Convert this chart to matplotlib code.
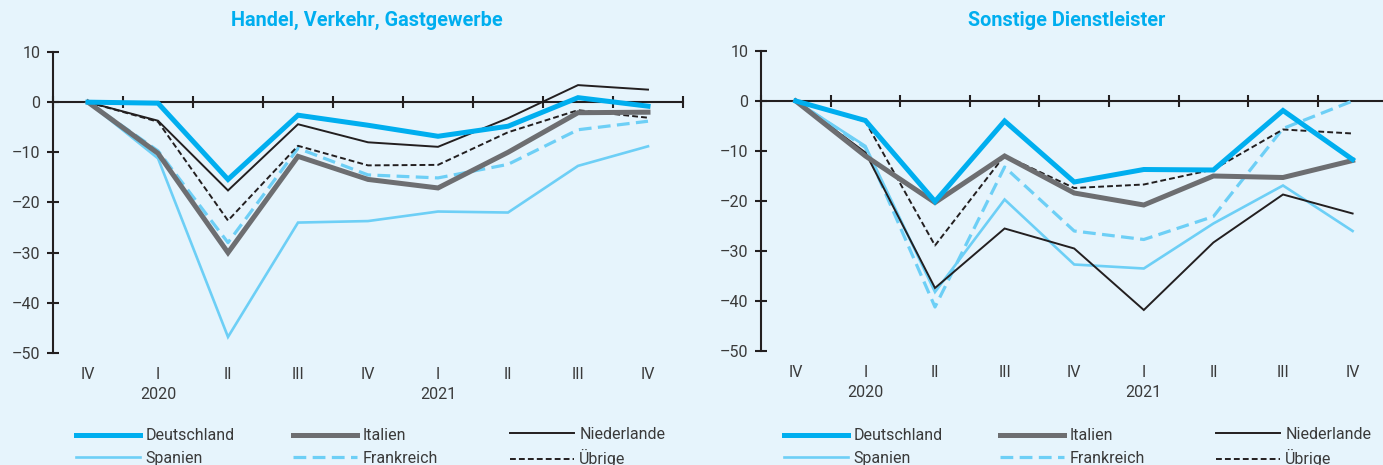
import matplotlib.pyplot as plt
import numpy as np

plt.rcParams['font.family'] = ['Roboto', 'DejaVu Sans']

quarters = ["IV", "I", "II", "III", "IV", "I", "II", "III", "IV"]
years = ["2020", "2021"]
year_pos = [1, 5]
countries = ["Deutschland", "Italien", "Niederlande", "Spanien", "Frankreich", "Übrige"]

# Handel, Verkehr, Gastgewerbe
hvg_de = [0, -0.2, -15.4, -2.6, -4.6, -6.8, -4.8, 0.9, -0.8]
hvg_it = [0, -10.2, -30.0, -10.8, -15.4, -17.1, -10.0, -2.1, -2.0]
hvg_nl = [0, -3.7, -17.6, -4.4, -8.0, -8.9, -3.2, 3.4, 2.5]
hvg_es = [0, -11.2, -46.8, -24.0, -23.7, -21.8, -22.0, -12.7, -8.8]
hvg_fr = [0, -9.7, -28.0, -9.2, -14.5, -15.1, -12.4, -5.5, -3.8]
hvg_ub = [0, -3.9, -23.6, -8.7, -12.6, -12.5, -6.0, -1.6, -3.1]

# Sonstige Dienstleister
sd_de = [0, -3.9, -20.1, -4.0, -16.2, -13.7, -13.8, -1.9, -11.7]
sd_it = [0, -11.0, -20.3, -11.0, -18.4, -20.8, -15.0, -15.3, -11.9]
sd_nl = [0, -10.3, -37.4, -25.5, -29.5, -41.8, -28.3, -18.7, -22.5]
sd_es = [0, -9.0, -38.2, -19.7, -32.7, -33.5, -24.5, -16.9, -26.0]
sd_fr = [0, -9.3, -41.2, -13.2, -26.0, -27.7, -23.1, -5.5, 0.0]
sd_ub = [0, -4.1, -28.9, -10.9, -17.4, -16.7, -13.7, -5.7, -6.5]

bg = '#E6F4FC'
ink = '#231F20'
txt = '#3A3A3A'
cyan = '#00AEEF'
light = '#6DCFF6'

styles = {
    "Deutschland": dict(color=cyan, lw=3.6, ls='-', zorder=7),
    "Italien": dict(color='#6D6E71', lw=3.6, ls='-', zorder=6),
    "Niederlande": dict(color=ink, lw=1.4, ls='-', zorder=5),
    "Spanien": dict(color=light, lw=1.9, ls='-', zorder=3),
    "Frankreich": dict(color=light, lw=2.3, ls=(0, (4, 2)), zorder=4),
    "Übrige": dict(color=ink, lw=1.4, ls=(0, (3, 1.6)), zorder=5),
}

fig = plt.figure(figsize=(13.83, 4.65), dpi=100, facecolor=bg)


def panel(rect, series, title, title_x, legend_x):
    ax = fig.add_axes(rect)
    ax.set_facecolor(bg)
    x = np.arange(len(quarters))
    handles = []
    for name, vals in zip(countries, series):
        st = styles[name]
        h, = ax.plot(x, vals, color=st['color'], lw=st['lw'], ls=st['ls'],
                     zorder=st['zorder'], solid_joinstyle='miter', label=name)
        handles.append(h)
    ax.set_xlim(-0.5, len(quarters) - 0.5)
    ax.set_ylim(-50, 10)
    ax.spines['top'].set_visible(False)
    ax.spines['right'].set_visible(False)
    ax.spines['bottom'].set_position(('data', 0))
    for s in ('left', 'bottom'):
        ax.spines[s].set_linewidth(1.5)
        ax.spines[s].set_color(ink)
        ax.spines[s].set_zorder(2)
    ax.set_yticks(np.arange(-50, 11, 10))
    ax.set_yticklabels([str(v).replace('-', '–') for v in range(-50, 11, 10)])
    ax.tick_params(axis='y', direction='inout', length=8, width=1.5, color=ink,
                   labelsize=11.5, labelcolor=txt, pad=5)
    ax.set_xticks(np.arange(-0.5, len(quarters), 1))
    ax.set_xticklabels([])
    ax.tick_params(axis='x', direction='inout', length=8, width=1.5, color=ink)
    for i, q in enumerate(quarters):
        ax.text(i, -0.07, q, transform=ax.get_xaxis_transform(), ha='center',
                va='center', fontsize=11.5, color=txt)
    for p, yr in zip(year_pos, years):
        ax.text(p, -0.137, yr, transform=ax.get_xaxis_transform(), ha='center',
                va='center', fontsize=11.5, color=txt)
    fig.text(title_x / 1383, 1 - 20 / 465, title, ha='center', va='center',
             fontsize=14.3, fontweight='bold', color=cyan)
    for col in range(3):
        hs = [handles[col], handles[col + 3]]
        leg = fig.legend(hs, [h.get_label() for h in hs], loc='center left',
                         bbox_to_anchor=(legend_x[col] / 1383, 1 - 447 / 465),
                         frameon=False, borderpad=0, borderaxespad=0,
                         handlelength=4.0, handletextpad=0.33, labelspacing=0.45,
                         fontsize=11.5)
        for t in leg.get_texts():
            t.set_color(txt)
    return ax


panel([53 / 1383, 1 - 353 / 465, 630 / 1383, 301 / 465],
      [hvg_de, hvg_it, hvg_nl, hvg_es, hvg_fr, hvg_ub],
      "Handel, Verkehr, Gastgewerbe", 367, [76, 293, 510])
panel([761 / 1383, 1 - 351 / 465, 626.4 / 1383, 300 / 465],
      [sd_de, sd_it, sd_nl, sd_es, sd_fr, sd_ub],
      "Sonstige Dienstleister", 1067, [784, 1000, 1216])

fig.savefig("out.png", dpi=100, facecolor=bg)
